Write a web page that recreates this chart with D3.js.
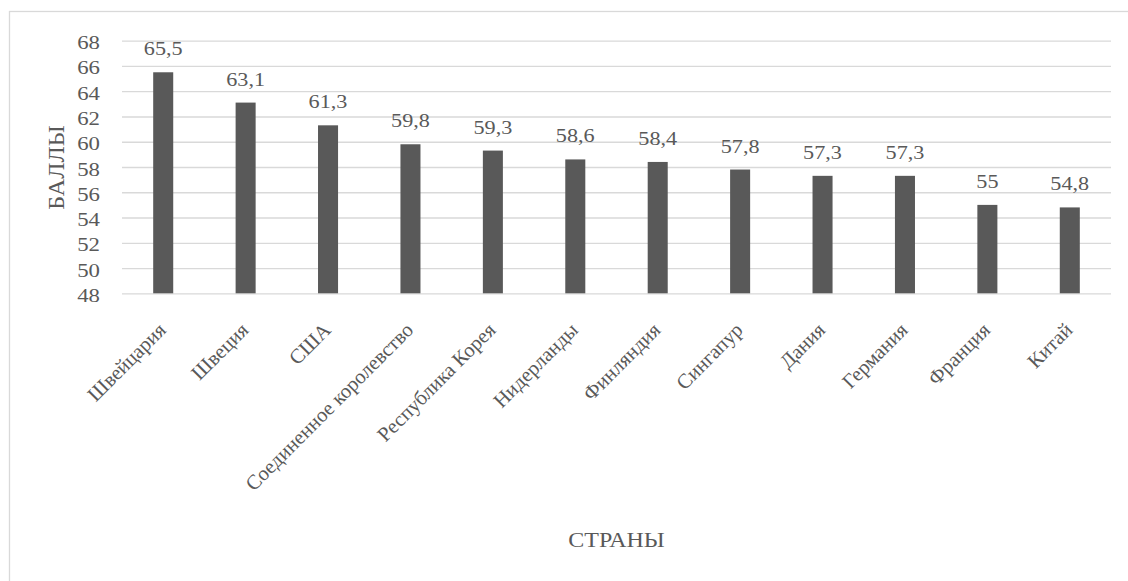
<!DOCTYPE html>
<html><head><meta charset="utf-8">
<script src="https://cdn.jsdelivr.net/npm/d3@7"></script>
<style>body{margin:0;background:#fff}svg{display:block}</style>
</head><body>
<script>
const categories = ["Швейцария","Швеция","США","Соединенное королевство","Республика Корея","Нидерланды","Финляндия","Сингапур","Дания","Германия","Франция","Китай"];
const values = [65.5,63.1,61.3,59.8,59.3,58.6,58.4,57.8,57.3,57.3,55,54.8];
const yTicks = [48,50,52,54,56,58,60,62,64,66,68];
const yTitle = "БАЛЛЫ";
const xTitle = "СТРАНЫ";

const FONT = "'Liberation Serif', 'Times New Roman', 'DejaVu Serif', serif";
const TXT = "#595959";
const SX = 1.2;
const W = 1128, H = 581;
const m = {left:122, right:1111, top:40.7, bottom:293.3};
const svg = d3.select("body").append("svg").attr("width",W).attr("height",H)
  .attr("font-family",FONT).style("font-family",FONT);
svg.append("rect").attr("x",9.5).attr("y",11.5).attr("width",W).attr("height",H).attr("fill","#fff").attr("stroke","#d9d9d9").attr("stroke-width",1.3);

const x = d3.scaleBand().domain(categories).range([m.left,m.right]).paddingInner(0.757).paddingOuter(0.3785);
const y = d3.scaleLinear().domain([48,68]).range([m.bottom,m.top]);

const gy = svg.append("g").attr("transform",`translate(${m.left},0)`)
  .call(d3.axisLeft(y).tickValues(yTicks).tickSize(-(m.right-m.left)).tickFormat(d3.format("d")));
gy.attr("font-family",FONT);
gy.select(".domain").remove();
gy.selectAll(".tick line").attr("stroke","#d9d9d9").attr("stroke-width",1.3);
gy.selectAll(".tick text").attr("font-size",19).attr("fill",TXT).style("font-family",FONT)
  .attr("x",0).attr("dy",null).attr("text-anchor","end")
  .attr("transform",`translate(-22,8) scale(${SX},1)`);

svg.append("g").selectAll("rect").data(values).join("rect")
  .attr("x",(d,i)=>x(categories[i])).attr("width",x.bandwidth())
  .attr("y",d=>y(d)).attr("height",d=>y(48)-y(d)).attr("fill","#595959");

svg.append("g").selectAll("text").data(values).join("text")
  .attr("transform",(d,i)=>`translate(${x(categories[i])+x.bandwidth()/2},${y(d)-17}) scale(${SX},1)`)
  .attr("text-anchor","middle").attr("font-size",18.5).attr("fill",TXT)
  .text(d=>String(d).replace(".",","));

svg.append("g").selectAll("text").data(categories).join("text")
  .attr("text-anchor","end").attr("font-size",20.5).attr("fill",TXT)
  .attr("transform",d=>`translate(${x(d)+x.bandwidth()/2+4},${m.bottom+38}) rotate(-45)`)
  .text(d=>d);

svg.append("text").attr("transform",`translate(64,167.5) rotate(-90)`).attr("text-anchor","middle").attr("font-size",24).attr("fill",TXT).text(yTitle);
svg.append("text").attr("transform",`translate(${(m.left+m.right)/2},547) scale(${SX},1)`).attr("text-anchor","middle").attr("font-size",20).attr("fill",TXT).text(xTitle);
</script>
</body></html>
